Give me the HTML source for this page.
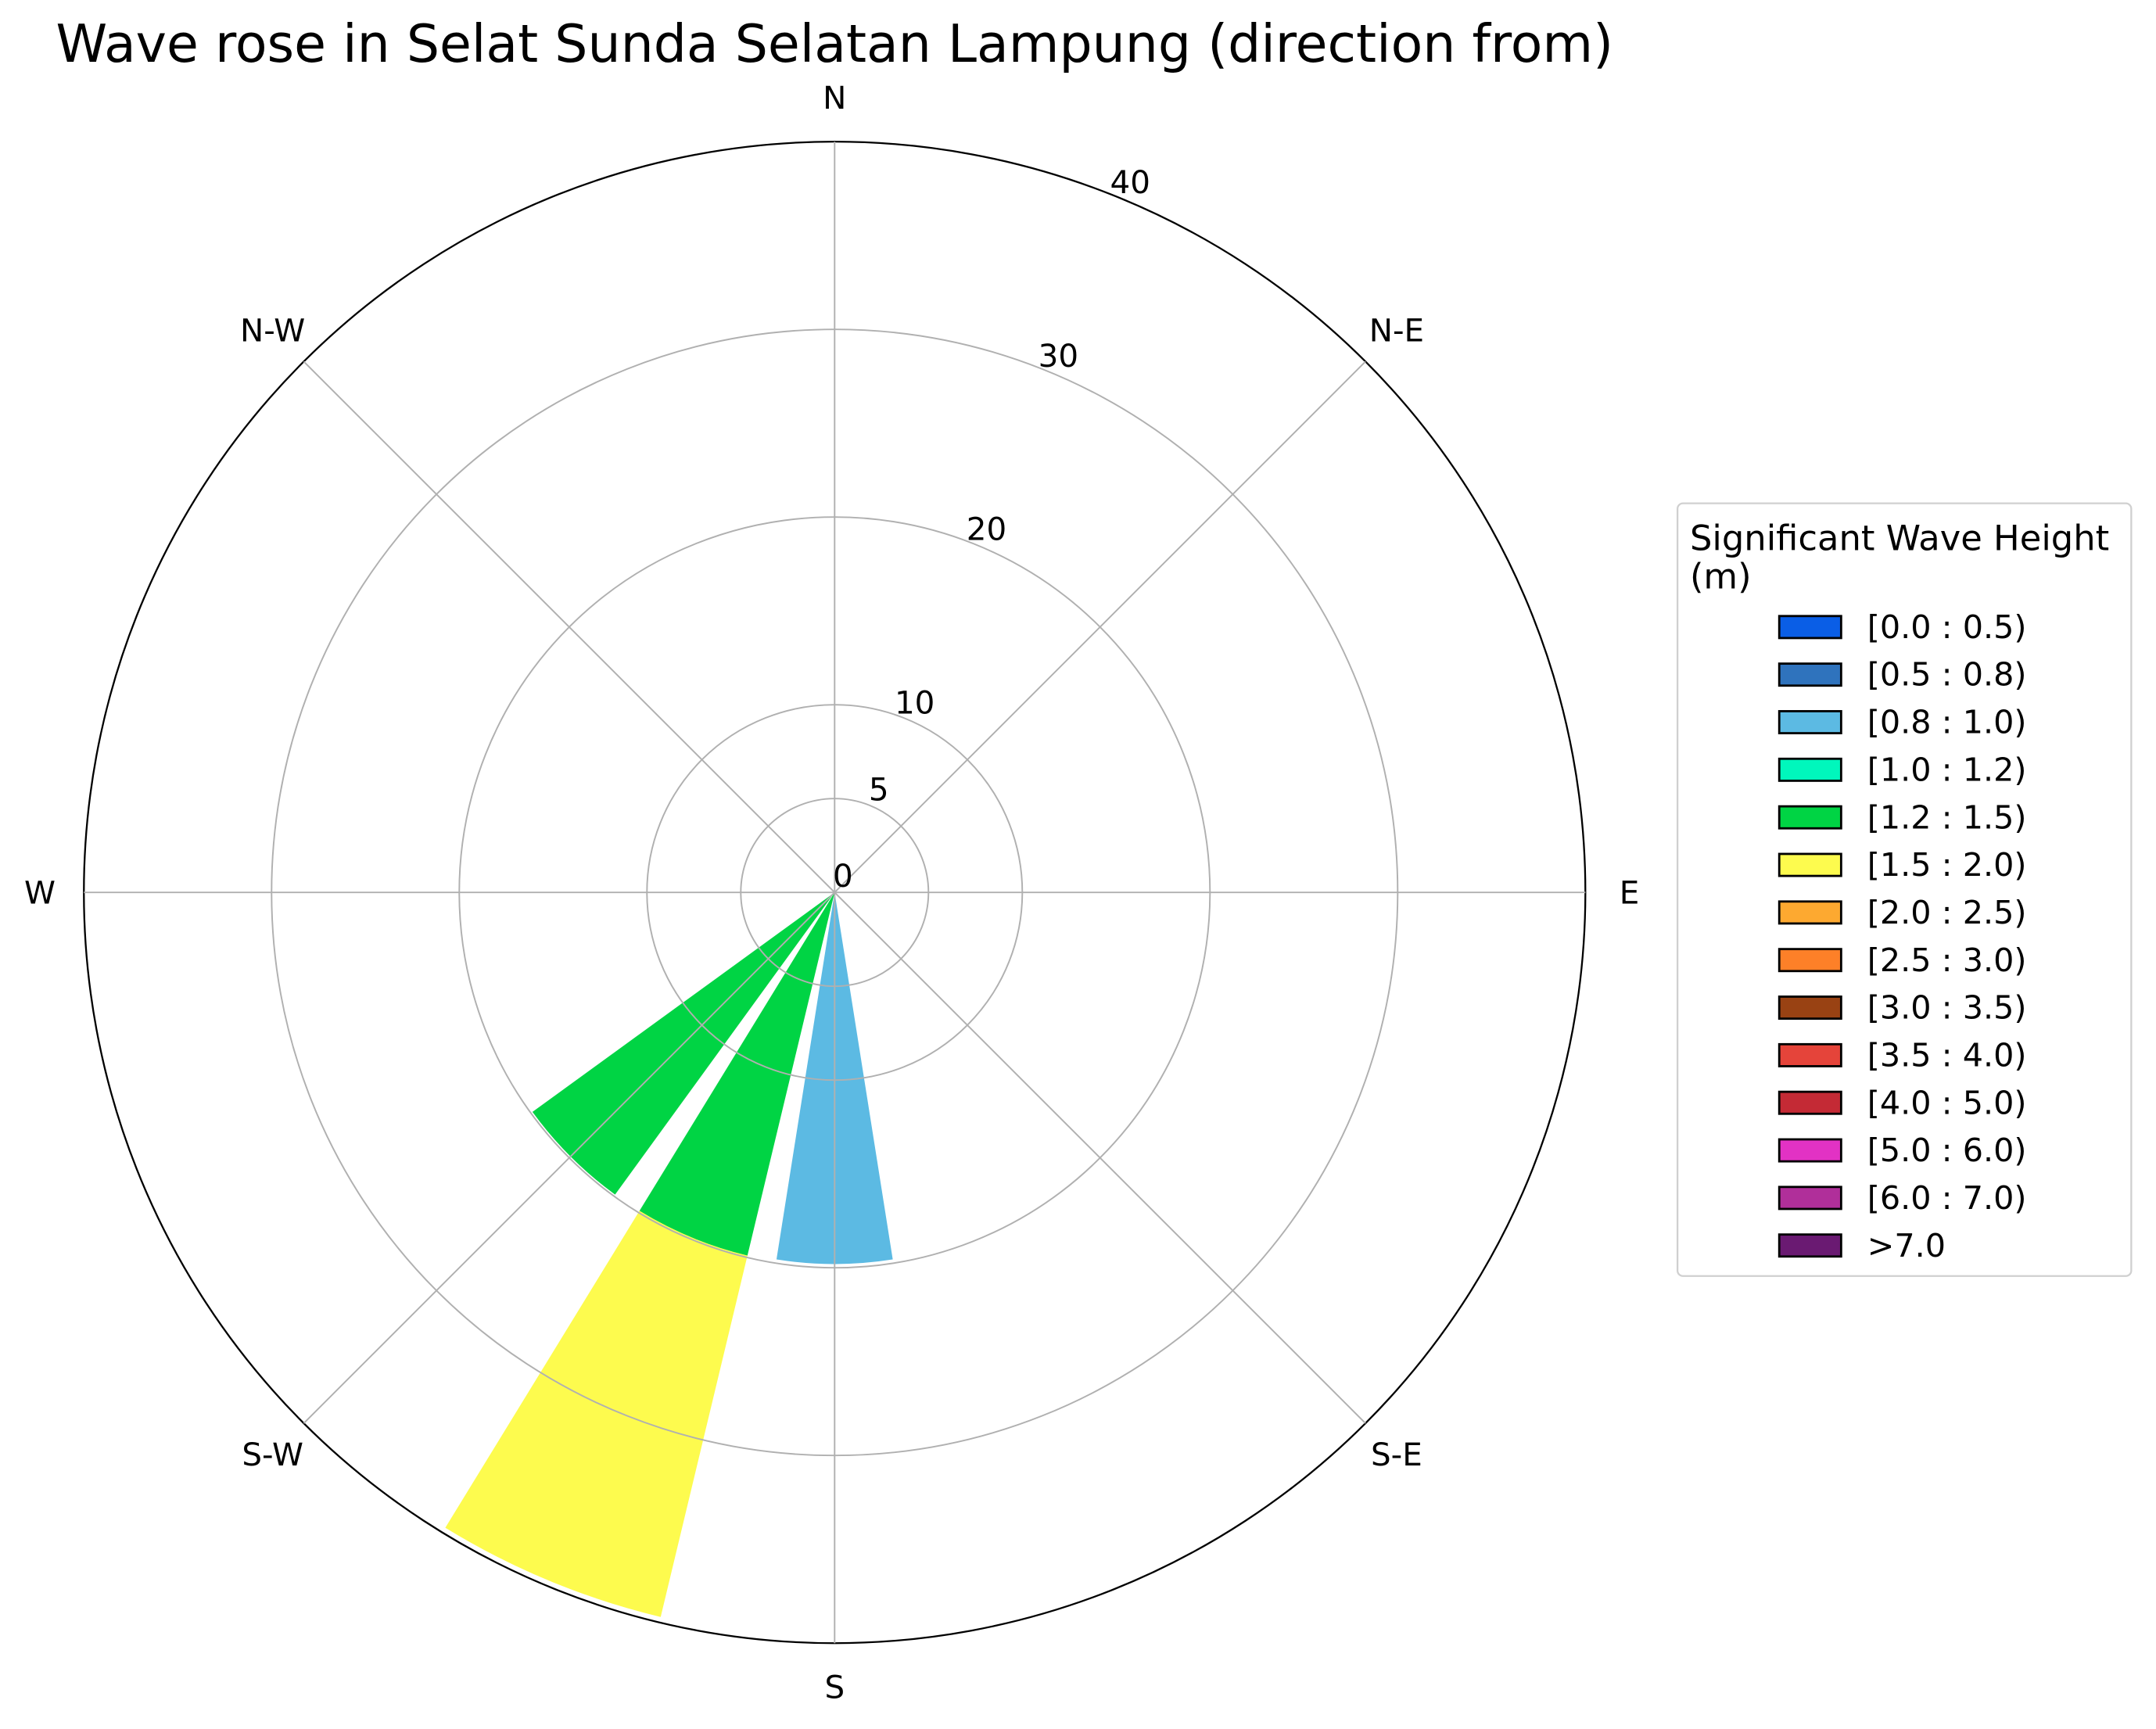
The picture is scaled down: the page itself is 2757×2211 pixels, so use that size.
<!DOCTYPE html>
<html><head><meta charset="utf-8"><style>
html,body{margin:0;padding:0;background:#fff}
svg{display:block;font-family:"DejaVu Sans","Liberation Sans",sans-serif}
</style></head><body>
<svg id="chart" width="2757" height="2211" viewBox="0 0 1568 1257.4" xmlns="http://www.w3.org/2000/svg">
<rect width="1568" height="1257.4" fill="#fff"/>
<text x="607" y="45" font-size="37.8" text-anchor="middle">Wave rose in Selat Sunda Selatan Lampung (direction from)</text>
<g id="bars"></g>
<g id="grid"></g>
<g id="labels"></g>
<g id="legend"></g>
</svg>
<script>
const directions = [180, 202.5, 225];
const directionNames = ['S','S-S-W','S-W'];
const binLabels = ['[0.0 : 0.5)','[0.5 : 0.8)','[0.8 : 1.0)','[1.0 : 1.2)','[1.2 : 1.5)','[1.5 : 2.0)','[2.0 : 2.5)','[2.5 : 3.0)','[3.0 : 3.5)','[3.5 : 4.0)','[4.0 : 5.0)','[5.0 : 6.0)','[6.0 : 7.0)','>7.0'];
const binColors = ['#0a5ee6','#2f73bd','#5cbae3','#00f7bc','#00d444','#fdfb4e','#fda930','#fd8028','#994213','#e5443a','#c42a35','#e232c4','#b02f9a','#6a1a72'];
// frequency (%) per bin for each direction
const binS   = [0,0,19.8,0,0,0,0,0,0,0,0,0,0,0];
const binSSW = [0,0,0,0,19.9,19.8,0,0,0,0,0,0,0,0];
const binSW  = [0,0,0,0,19.9,0,0,0,0,0,0,0,0,0];
const radialTicks = [0,5,10,20,30,40];
const compassLabels = ['N','N-E','E','S-E','S','S-W','W','N-W'];
const rMax = 40;

const NS='http://www.w3.org/2000/svg';
const cx=607, cy=649, R=546, barWidthDeg=18;
function rScale(v){return v/rMax*R;}
function pt(deg,r){const a=deg*Math.PI/180;return [cx+r*Math.sin(a), cy-r*Math.cos(a)];}
function mk(tag,attrs,parent){const e=document.createElementNS(NS,tag);for(const k in attrs)e.setAttribute(k,attrs[k]);parent.appendChild(e);return e;}

const bars=document.getElementById('bars');
const series=[binS,binSSW,binSW];
series.forEach((vals,i)=>{
  let cum=0;
  vals.forEach((v,j)=>{
    if(v<=0) return;
    const r0=rScale(cum), r1=rScale(cum+v); cum+=v;
    const d=directions[i], a0=d-barWidthDeg/2, a1=d+barWidthDeg/2;
    const p1=pt(a0,r0),p2=pt(a0,r1),p3=pt(a1,r1),p4=pt(a1,r0);
    const path=`M${p1[0]},${p1[1]} L${p2[0]},${p2[1]} A${r1},${r1} 0 0 1 ${p3[0]},${p3[1]} L${p4[0]},${p4[1]}`+(r0>0?` A${r0},${r0} 0 0 0 ${p1[0]},${p1[1]}`:'')+' Z';
    const e=mk('path',{d:path,fill:binColors[j]},bars);
    
    
  });
});

const grid=document.getElementById('grid');
radialTicks.slice(1).forEach(t=>{
  const e=mk('circle',{cx:cx,cy:cy,r:rScale(t),fill:'none',stroke:t===rMax?'#000':'#b0b0b0','stroke-width':t===rMax?1.3:1.1},grid);
  
  
});
for(let k=0;k<8;k++){
  const p=pt(k*45,R);
  const e=mk('line',{x1:cx,y1:cy,x2:p[0],y2:p[1],stroke:'#b0b0b0','stroke-width':1.1},grid);
  
  
}

const labels=document.getElementById('labels');
compassLabels.forEach((l,k)=>{
  const p=pt(k*45,R+32);
  const e=mk('text',{x:p[0],y:p[1]+8,'font-size':23,'text-anchor':'middle'},labels);
  e.textContent=l;
  
  
});
radialTicks.forEach(t=>{
  const p=pt(22.5,rScale(t));
  const e=mk('text',{x:p[0]+6,y:p[1]-4,'font-size':23,'text-anchor':'middle'},labels);
  e.textContent=t;
  
  
});

const lg=document.getElementById('legend');
const box=mk('rect',{x:1220,y:366,width:330,height:562,rx:4,fill:'#fff',stroke:'#d0d0d0','stroke-width':1.3},lg);


const t1=mk('text',{x:1229,y:400,'font-size':25.5},lg);t1.textContent='Significant Wave Height';


const t2=mk('text',{x:1229,y:428,'font-size':25.5},lg);t2.textContent='(m)';


binLabels.forEach((l,j)=>{
  const y=456+j*34.6;
  const g=mk('g',{},lg);
  
  
  mk('rect',{x:1294,y:y-8,width:45,height:16,fill:binColors[j],stroke:'#000','stroke-width':1.6},g);
  const tx=mk('text',{x:1358,y:y+8,'font-size':23.5},g);tx.textContent=l;
});
</script>
</body></html>
